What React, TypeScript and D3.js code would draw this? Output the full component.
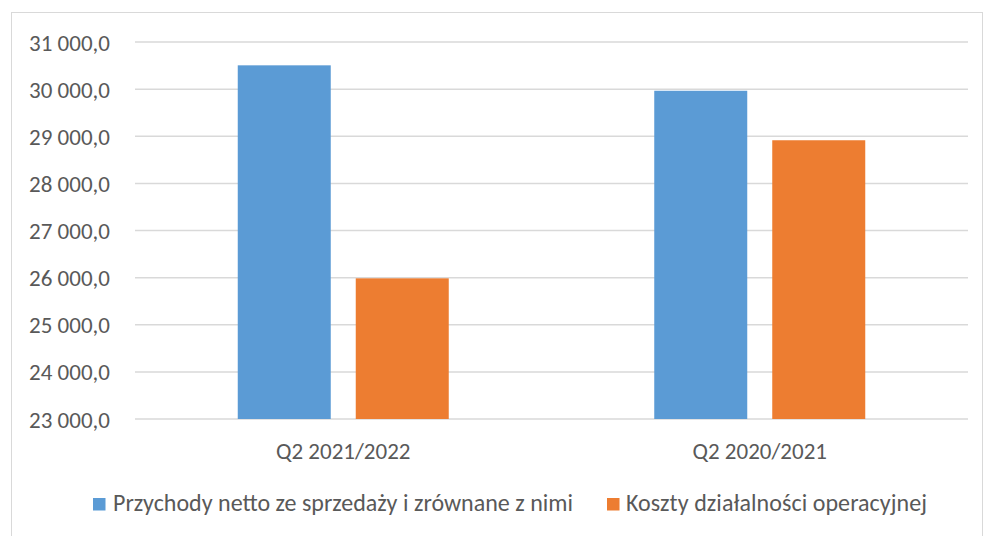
import React from "react";
import * as d3 from "d3";

const categories = ["Q2 2021/2022", "Q2 2020/2021"];
const seriesNames = ["Przychody netto ze sprzedaży i zrównane z nimi", "Koszty działalności operacyjnej"];
const revenue = [30505, 29965];
const costs = [25985, 28915];
const yTicks = [23000, 24000, 25000, 26000, 27000, 28000, 29000, 30000, 31000];
const colors = ["#5B9BD5", "#ED7D31"];

const W = 983, H = 536;
const M = { left: 135, right: 968, top: 42, bottom: 419 };
const FS = 23;

const fmt = (v: number) => {
  const s = Math.round(v).toString();
  const th = s.replace(/\B(?=(\d{3})+(?!\d))/g, "\u00a0");
  return th + ",0";
};

export default function App() {
  const x = d3.scaleBand<string>().domain(categories).range([M.left, M.right]).paddingInner(0).paddingOuter(0);
  const y = d3.scaleLinear().domain([23000, 31000]).range([M.bottom, M.top]);
  const barW = 93;
  const gap = 25;
  const series = [revenue, costs];
  const font = "Carlito, Calibri, Lato, 'Open Sans', sans-serif";
  return (
    <svg width={W} height={H} style={{ position: "absolute", left: 0, top: 0 }} fontFamily={font}>
      <rect x={0} y={0} width={W} height={H} fill="#fff" />
      <rect x={11.5} y={12.5} width={W - 12} height={H - 12} fill="none" stroke="#d9d9d9" />
      {yTicks.map((t) => (
        <g key={t}>
          <line x1={M.left} x2={M.right} y1={y(t)} y2={y(t)} stroke="#d9d9d9" strokeWidth={1.5} />
          <text x={110} y={y(t) + 8.5} textAnchor="end" fontSize={FS} fill="#595959">{fmt(t)}</text>
        </g>
      ))}
      {categories.map((c, i) => {
        const cx = (x(c) as number) + x.bandwidth() / 2;
        const groupW = barW * 2 + gap;
        return (
          <g key={c}>
            {series.map((s, j) => {
              const bx = cx - groupW / 2 + j * (barW + gap);
              return <rect key={j} x={bx} y={y(s[i])} width={barW} height={y(23000) - y(s[i])} fill={colors[j]} />;
            })}
            <text x={cx} y={459} textAnchor="middle" fontSize={FS} fill="#595959">{c}</text>
          </g>
        );
      })}
      <rect x={93} y={498} width={12.5} height={12.5} fill={colors[0]} />
      <text x={113} y={511} fontSize={24} fill="#595959" textLength={460} lengthAdjust="spacing">{seriesNames[0]}</text>
      <rect x={607} y={498} width={12.5} height={12.5} fill={colors[1]} />
      <text x={626} y={511} fontSize={24} fill="#595959" textLength={301} lengthAdjust="spacing">{seriesNames[1]}</text>
    </svg>
  );
}
